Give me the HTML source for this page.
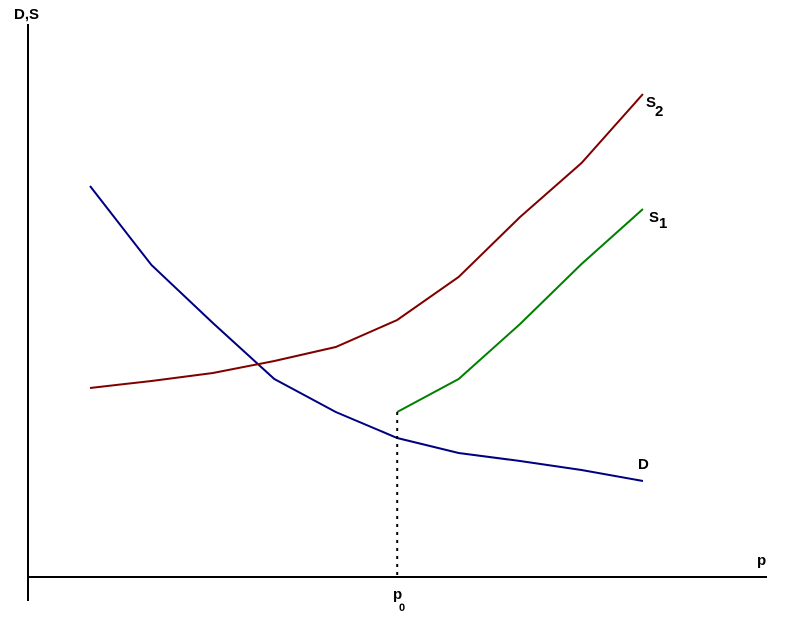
<!DOCTYPE html>
<html><head><meta charset="utf-8"><style>
html,body{margin:0;padding:0;background:#fff;}
svg text{font-family:"Liberation Sans",sans-serif;font-weight:bold;fill:#000;}
</style></head><body>
<svg id="chart" width="795" height="629" viewBox="0 0 795 629" xmlns="http://www.w3.org/2000/svg">
<line x1="28" y1="24" x2="28" y2="601" stroke="#000" stroke-width="2"/>
<line x1="28" y1="577" x2="767" y2="577" stroke="#000" stroke-width="2"/>
<text x="14" y="19" font-size="15">D,S</text>
<text x="757" y="565" font-size="15">p</text>
<text x="393" y="599" font-size="15">p</text>
<text x="399" y="611" font-size="11">0</text>
<g id="marks"></g>
<text x="646" y="107" font-size="15">S</text>
<text x="655" y="116" font-size="15">2</text>
<text x="649" y="222" font-size="15">S</text>
<text x="659" y="228" font-size="15">1</text>
<text x="638" y="469" font-size="15">D</text>
</svg>
<script>
const categories=[0,1,2,3,4,5,6,7,8,9];
const demandValues=[391,312,254,198,165,139,124,116,107,96];
const supply2Values=[189,196,204,216,230,257,300,360,414,483];
const supply1Categories=[5,6,7,8,9];
const supply1Values=[165,198,253,313,368];
const p0Index=5;
function xs(i){return 90+i*61.44;}
function ys(v){return 577-v;}
const g=document.getElementById('marks');
const NS='http://www.w3.org/2000/svg';
function line(cats,vals,color,name){
  const p=document.createElementNS(NS,'polyline');
  p.setAttribute('points',cats.map((c,k)=>xs(c)+','+ys(vals[k])).join(' '));
  p.setAttribute('fill','none');p.setAttribute('stroke',color);p.setAttribute('stroke-width','2');
  
  
  g.appendChild(p);
}
line(categories,demandValues,'#000080','demand-line');
line(categories,supply2Values,'#800000','s2-line');
line(supply1Categories,supply1Values,'#008000','s1-line');
const d=document.createElementNS(NS,'line');
d.setAttribute('x1',xs(p0Index));d.setAttribute('x2',xs(p0Index));
d.setAttribute('y1',ys(supply1Values[0]));d.setAttribute('y2',577);
d.setAttribute('stroke','#000');d.setAttribute('stroke-width','2');d.setAttribute('stroke-dasharray','3,5');


g.appendChild(d);
</script>
</body></html>
